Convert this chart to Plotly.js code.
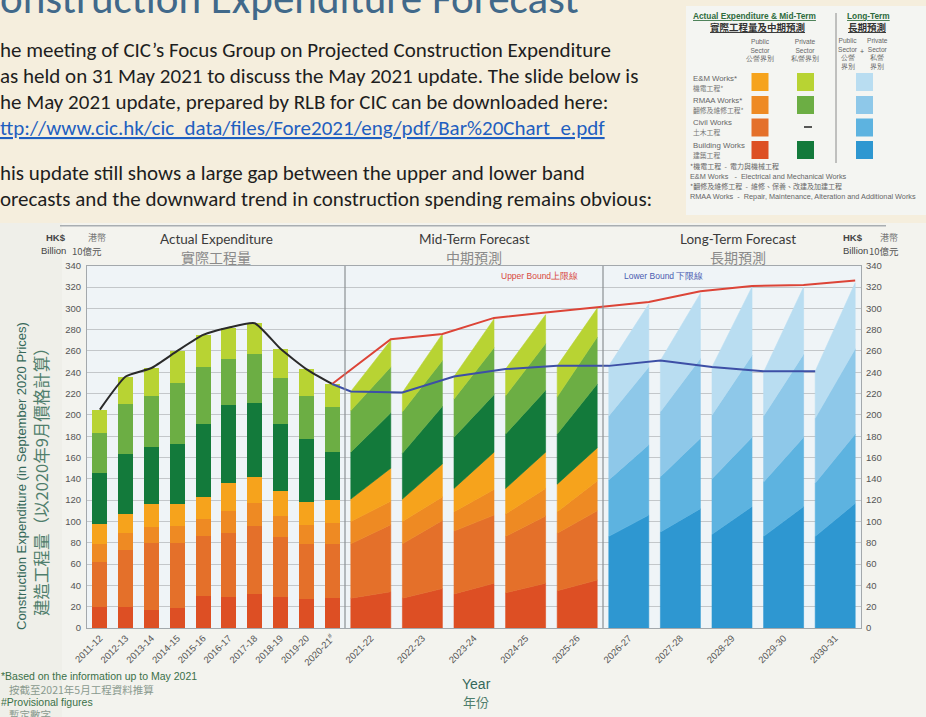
<!DOCTYPE html>
<html><head><meta charset="utf-8">
<script src="https://cdn.plot.ly/plotly-3.0.1.min.js"></script>
<style>html,body{margin:0;padding:0;background:#F5EEDD;overflow:hidden}#chart{width:926px;height:717px}</style>
</head><body><div id="chart"></div>
<script>
// ---------- DATA (HK$ billion, September 2020 prices) ----------
const actualYears = ['2011-12','2012-13','2013-14','2014-15','2015-16','2016-17','2017-18','2018-19','2019-20','2020-21<sup>#</sup>'];
const midYears = ['2021-22','2022-23','2023-24','2024-25','2025-26'];
const longYears = ['2026-27','2027-28','2028-29','2029-30','2030-31'];

// Actual expenditure, by segment
const actBldgPub  = [20,20,17,19,30,29,32,29,27,28];
const actCivilPub = [42,53,63,61,56,60,64,56,52,51];
const actRmaaPub  = [17,16,15,16,16,21,21,20,18,20];
const actEmPub    = [19,18,21,20,21,26,25,24,21,21];
const actBldgPriv = [47,56,54,57,68,73,69,62,59,45];
const actRmaaPriv = [38,47,48,57,54,43,46,44,41,42];
const actEmPriv   = [22,26,26,30,30,30,29,27,25,22];

// Mid-term forecast: lower-bound composition (left edge) and upper-bound composition (right edge)
const midLowBldgPub  = [28,28,32,33,35];
const midLowCivilPub = [51,51,59,53,54];
const midLowRmaaPub  = [21,21,18,21,20];
const midLowEmPub    = [21,21,22,24,26];
const midLowBldgPriv = [44,43,48,51,47];
const midLowRmaaPriv = [39,39,36,36,35];
const midLowEmPriv   = [18,18,21,25,29];
const midUpBldgPub   = [34,37,42,42,45];
const midUpCivilPub  = [63,64,64,63,65];
const midUpRmaaPub   = [22,22,24,26,28];
const midUpEmPub     = [31,31,35,34,31];
const midUpBldgPriv  = [52,54,54,58,60];
const midUpRmaaPriv  = [43,43,44,44,44];
const midUpEmPriv    = [25,25,27,27,27];

// Long-term forecast (public + private)
const longLowBldg  = [86,90,88,86,86];
const longLowCivil = [53,52,52,51,50];
const longLowRmaa  = [60,61,60,62,61];
const longLowEm    = [47,48,45,41,44];
const longUpBldg   = [106,112,114,114,117];
const longUpCivil  = [66,66,65,65,65];
const longUpRmaa   = [73,75,77,78,80];
const longUpEm     = [59,61,64,63,62];

// Bound lines (2021-22 .. 2030-31)
const upperBound = [271,276,291,296,301,306,316,321,322,326];
const lowerBound = [222,221,236,243,246,246,251,245,241,241];

const yTicks = [0,20,40,60,80,100,120,140,160,180,200,220,240,260,280,300,320,340];

// ---------- STYLE ----------
const cBldgPub='#DD4F24', cCivilPub='#E4702A', cRmaaPub='#EE8A23', cEmPub='#F6A31C';
const cBldgPriv='#137A3B', cRmaaPriv='#6CAE44', cEmPriv='#B8D333';
const cLtBldg='#2E97D1', cLtCivil='#5DB3E0', cLtRmaa='#8EC8E9', cLtEm='#B9DDF1';

const W=926, H=717;
const px = x => x/W, py = y => 1 - y/H;

// category positions on a numeric axis (forecast years take double width)
const actPos = actualYears.map((_,i)=>i);
const fcPos = midYears.concat(longYears).map((_,j)=>10.5+2*j);
const midPos = fcPos.slice(0,5), longPos = fcPos.slice(5);
const actW = 0.58, fcHalf = 0.775;

const traces = [];
function addBar(y, color){
  traces.push({type:'bar', x:actPos, y:y, width:actW, marker:{color:color, line:{width:0}}, hoverinfo:'skip', showlegend:false});
}
addBar(actBldgPub,cBldgPub); addBar(actCivilPub,cCivilPub); addBar(actRmaaPub,cRmaaPub); addBar(actEmPub,cEmPub);
addBar(actBldgPriv,cBldgPriv); addBar(actRmaaPriv,cRmaaPriv); addBar(actEmPriv,cEmPriv);

function addRange(pos, lows, ups, colors){
  for(let s=0;s<lows.length;s++){
    const xs=[], ys=[];
    pos.forEach((c,k)=>{
      let bL=0,bR=0;
      for(let t=0;t<s;t++){bL+=lows[t][k]; bR+=ups[t][k];}
      const tL=bL+lows[s][k], tR=bR+ups[s][k];
      xs.push(c-fcHalf,c+fcHalf,c+fcHalf,c-fcHalf,c-fcHalf,null);
      ys.push(bL,bR,tR,tL,bL,null);
    });
    traces.push({type:'scatter', mode:'lines', x:xs, y:ys, fill:'toself', fillcolor:colors[s],
      line:{color:colors[s], width:0.6}, connectgaps:false, hoverinfo:'skip', showlegend:false});
  }
}
addRange(midPos,
  [midLowBldgPub,midLowCivilPub,midLowRmaaPub,midLowEmPub,midLowBldgPriv,midLowRmaaPriv,midLowEmPriv],
  [midUpBldgPub,midUpCivilPub,midUpRmaaPub,midUpEmPub,midUpBldgPriv,midUpRmaaPriv,midUpEmPriv],
  [cBldgPub,cCivilPub,cRmaaPub,cEmPub,cBldgPriv,cRmaaPriv,cEmPriv]);
addRange(longPos,
  [longLowBldg,longLowCivil,longLowRmaa,longLowEm],
  [longUpBldg,longUpCivil,longUpRmaa,longUpEm],
  [cLtBldg,cLtCivil,cLtRmaa,cLtEm]);

// actual total line
const actTotal = actPos.map((_,i)=>actBldgPub[i]+actCivilPub[i]+actRmaaPub[i]+actEmPub[i]+actBldgPriv[i]+actRmaaPriv[i]+actEmPriv[i]);
traces.push({type:'scatter', mode:'lines', x:actPos, y:actTotal, line:{color:'#2A2A2A', width:2, shape:'spline', smoothing:0.5}, hoverinfo:'skip', showlegend:false});
const last = actPos.length-1;
traces.push({type:'scatter', mode:'lines', x:[actPos[last]].concat(fcPos.map(c=>c+fcHalf)), y:[actTotal[last]].concat(upperBound),
  line:{color:'#DC4437', width:2}, hoverinfo:'skip', showlegend:false});
traces.push({type:'scatter', mode:'lines', x:[actPos[last]].concat(fcPos.map(c=>c-fcHalf)), y:[actTotal[last]].concat(lowerBound),
  line:{color:'#3D4FA6', width:2}, hoverinfo:'skip', showlegend:false});
// invisible trace for right axis
traces.push({type:'scatter', mode:'markers', x:[0], y:[0], yaxis:'y2', marker:{opacity:0}, hoverinfo:'skip', showlegend:false});

// ---------- ANNOTATIONS ----------
const SANS='Liberation Sans, Arial, sans-serif';
const CJK='Noto Sans CJK TC, sans-serif';
const BODY='Carlito, Lato, sans-serif';
function ann(text,x,y,o){
  o=o||{};
  return {text:text, x:px(x), y:py(y), xref:'paper', yref:'paper', showarrow:false,
    xanchor:o.xa||'left', yanchor:o.ya||'middle', align:o.align||'left', textangle:o.angle||0,
    font:{family:o.family||SANS, size:o.size||10, color:o.color||'#444', weight:o.weight||'normal'}};
}
const anns = [];
// page text
anns.push(ann('onstruction Expenditure Forecast', -2, -1, {size:43, color:'#41698A', family:BODY, weight:300}));
const para = [
  ['he meeting of CIC\u2019s Focus Group on Projected Construction Expenditure',50],
  ['as held on 31 May 2021 to discuss the May 2021 update. The slide below is',76],
  ['he May 2021 update, prepared by RLB for CIC can be downloaded here:',102],
  ['<span style="text-decoration:underline">ttp://www.cic.hk/cic_data/files/Fore2021/eng/pdf/Bar%20Chart_e.pdf</span>',128,'#1F5FC0'],
  ['his update still shows a large gap between the upper and lower band',173],
  ['orecasts and the downward trend in construction spending remains obvious:',199]
];
para.forEach(p=>anns.push(ann(p[0], -2, p[1], {size:21, color:p[2]||'#1E1E1E', family:BODY})));

// chart header texts
anns.push(ann('Actual Expenditure', 216, 239, {xa:'center', size:13.5, color:'#3A3A3A', family:'Lato, sans-serif'}));
anns.push(ann('實際工程量', 216, 257, {xa:'center', size:14, color:'#8A8A8A', family:CJK}));
anns.push(ann('Mid-Term Forecast', 474, 239, {xa:'center', size:13.5, color:'#3A3A3A', family:'Lato, sans-serif'}));
anns.push(ann('中期預測', 474, 257, {xa:'center', size:14, color:'#8A8A8A', family:CJK}));
anns.push(ann('Long-Term Forecast', 738, 239, {xa:'center', size:13.5, color:'#3A3A3A', family:'Lato, sans-serif'}));
anns.push(ann('長期預測', 738, 257, {xa:'center', size:14, color:'#8A8A8A', family:CJK}));
anns.push(ann('HK$', 68, 238, {xa:'right', size:9.5, color:'#444', weight:'bold'}));
anns.push(ann('港幣', 86, 238, {size:9, color:'#777', family:CJK}));
anns.push(ann('Billion', 68, 250.5, {xa:'right', size:9.5, color:'#444'}));
anns.push(ann('10億元', 70, 250.5, {size:9.5, color:'#555', family:CJK}));
anns.push(ann('HK$', 841, 238, {size:9.5, color:'#444', weight:'bold'}));
anns.push(ann('港幣', 878, 238, {size:9, color:'#777', family:CJK}));
anns.push(ann('Billion', 841, 250.5, {size:9.5, color:'#444'}));
anns.push(ann('10億元', 867, 250.5, {size:9.5, color:'#555', family:CJK}));
anns.push(ann('Upper Bound上限線', 580, 276, {xa:'right', size:8.5, color:'#D8483C'}));
anns.push(ann('Lower Bound 下限線', 622, 276, {size:8.5, color:'#4A5BB0'}));

// axis titles
anns.push(ann('Construction Expenditure (in September 2020 Prices)', 22, 476, {xa:'center', angle:-90, size:13, color:'#35685A'}));
anns.push(ann('建造工程量（以2020年9月價格計算）', 41, 478, {xa:'center', angle:-90, size:16.5, color:'#4F7E6C', family:CJK}));
anns.push(ann('Year', 476, 684, {xa:'center', size:14, color:'#35685A'}));
anns.push(ann('年份', 476, 701, {xa:'center', size:13, color:'#4F7E6C', family:CJK}));
// footnotes
anns.push(ann('*Based on the information up to May 2021', -1, 676, {size:10.5, color:'#3A7048'}));
anns.push(ann('按截至2021年5月工程資料推算', 7, 689, {size:10.5, color:'#8A9A8E', family:CJK}));
anns.push(ann('#Provisional figures', -1, 702, {size:10.5, color:'#3A7048'}));
anns.push(ann('暫定數字', 7, 714, {size:10.5, color:'#8A9A8E', family:CJK}));

// legend panel
const LG='#2D6B3C';
anns.push(ann('<span style="text-decoration:underline">Actual Expenditure &amp; Mid-Term</span>', 691, 16, {size:8.3, color:LG, weight:'bold'}));
anns.push(ann('<span style="text-decoration:underline">實際工程量及中期預測</span>', 757, 27.5, {xa:'center', size:9.5, color:'#333', weight:'bold', family:CJK}));
anns.push(ann('<span style="text-decoration:underline">Long-Term</span>', 868, 16, {xa:'center', size:8.3, color:LG, weight:'bold'}));
anns.push(ann('<span style="text-decoration:underline">長期預測</span>', 867, 27.5, {xa:'center', size:9.5, color:'#333', weight:'bold', family:CJK}));
anns.push(ann('Public<br>Sector<br>公營界別',760,49.5,{xa:'center',align:'center',size:6.6,color:'#666'}));
anns.push(ann('Private<br>Sector<br>私營界別',805,49.5,{xa:'center',align:'center',size:6.6,color:'#666'}));
anns.push(ann('Public<br>Sector<br>公營<br>界別',847.5,53,{xa:'center',align:'center',size:6.6,color:'#666'}));
anns.push(ann('Private<br>Sector<br>私營<br>界別',877,53,{xa:'center',align:'center',size:6.6,color:'#666'}));
anns.push(ann('+',862,52,{xa:'center',size:7,color:'#555'}));
const rows = [['E&amp;M Works*','機電工程*',79],['RMAA Works*','翻修及維修工程*',100.5],['Civil Works','土木工程',122.5],['Building Works','建築工程',145.5]];
rows.forEach(r=>{
  anns.push(ann(r[0],691,r[2]-0.5,{size:7.8,color:'#666'}));
  anns.push(ann(r[1],691,r[2]+9,{size:6.8,color:'#777',family:CJK}));
});
anns.push(ann('*機電工程  -  電力與機械工程',688,166,{size:7,color:'#666',family:CJK}));
anns.push(ann('E&amp;M Works   -  Electrical and Mechanical Works',688,176.5,{size:7.3,color:'#666'}));
anns.push(ann('*翻修及維修工程  -  維修、保養、改建及加建工程',688,186,{size:7,color:'#666',family:CJK}));
anns.push(ann('RMAA Works  -  Repair, Maintenance, Alteration and Additional Works',688,196.5,{size:7.3,color:'#666'}));

// ---------- SHAPES ----------
const shapes = [];
function rectPx(x0,y0,x1,y1,fill){shapes.push({type:'rect',xref:'paper',yref:'paper',x0:px(x0),x1:px(x1),y0:py(y1),y1:py(y0),fillcolor:fill,line:{width:0},layer:'below'});}
rectPx(0,223,926,717,'#F3F3EE');          // chart image region
rectPx(0,223,62,717,'#EFEFE9');
rectPx(686,6,926,215,'#F4F5F2');          // legend panel
rectPx(87,265.7,861,628,'#EFF4F7');       // plot background
shapes.push({type:'line',xref:'paper',yref:'paper',x0:px(60),x1:px(886),y0:py(225.7),y1:py(225.7),line:{color:'#A9AEB1',width:1.5}});
// section dividers
[9.5,19.5].forEach(xv=>shapes.push({type:'line',xref:'x',yref:'y',x0:xv,x1:xv,y0:0,y1:340,line:{color:'#8A8F93',width:1.2},layer:'above'}));
// legend swatches
const swRows=[[73,91],[96,114],[118.5,136.5],[141,159]];
const pubCols=[cEmPub,cRmaaPub,cCivilPub,cBldgPub], privCols=[cEmPriv,cRmaaPriv,null,cBldgPriv], ltCols=[cLtEm,cLtRmaa,cLtCivil,cLtBldg];
swRows.forEach((r,i)=>{
  shapes.push({type:'rect',xref:'paper',yref:'paper',x0:px(751.5),x1:px(768.5),y0:py(r[1]),y1:py(r[0]),fillcolor:pubCols[i],line:{width:0}});
  if(privCols[i]) shapes.push({type:'rect',xref:'paper',yref:'paper',x0:px(797),x1:px(814),y0:py(r[1]),y1:py(r[0]),fillcolor:privCols[i],line:{width:0}});
  shapes.push({type:'rect',xref:'paper',yref:'paper',x0:px(856),x1:px(873),y0:py(r[1]),y1:py(r[0]),fillcolor:ltCols[i],line:{width:0}});
});
shapes.push({type:'line',xref:'paper',yref:'paper',x0:px(804),x1:px(812),y0:py(127),y1:py(127),line:{color:'#222',width:1.5}});
shapes.push({type:'line',xref:'paper',yref:'paper',x0:px(836),x1:px(836),y0:py(163),y1:py(13),line:{color:'#8A8A8A',width:1}});

const tickFont = {family:SANS, size:9.5, color:'#555'};
const layout = {
  width:W, height:H, margin:{l:0,r:0,t:0,b:0},
  paper_bgcolor:'#F5EEDD', plot_bgcolor:'rgba(0,0,0,0)',
  barmode:'stack', showlegend:false,
  xaxis:{domain:[px(87),px(861)], range:[-0.5,29.5], tickmode:'array',
    tickvals:actPos.concat(fcPos), ticktext:actualYears.concat(midYears,longYears),
    tickangle:-45, tickfont:tickFont, showgrid:false, zeroline:false,
    showline:true, mirror:true, linecolor:'#A3A8AC', linewidth:1, ticks:'', fixedrange:true},
  yaxis:{domain:[py(628),py(265.7)], range:[0,340], tickmode:'array', tickvals:yTicks,
    showgrid:true, gridcolor:'#C3C7CA', gridwidth:1, zeroline:false,
    showline:true, mirror:true, linecolor:'#A3A8AC', linewidth:1, tickfont:tickFont, ticks:'', ticklabelstandoff:3, fixedrange:true},
  yaxis2:{overlaying:'y', side:'right', anchor:'x', range:[0,340], tickmode:'array', tickvals:yTicks,
    showgrid:false, zeroline:false, showline:false, tickfont:tickFont, ticks:'', ticklabelstandoff:4, fixedrange:true},
  annotations:anns, shapes:shapes
};
Plotly.newPlot('chart', traces, layout, {staticPlot:true, displayModeBar:false});
</script>
</body></html>
